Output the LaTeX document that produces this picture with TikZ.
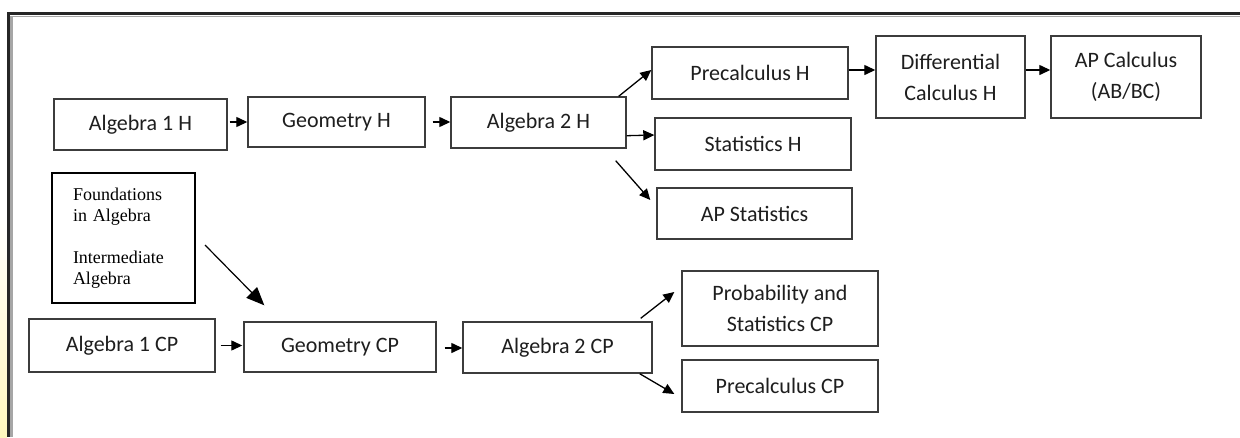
\documentclass[tikz,border=0pt]{standalone}
\usepackage{fontspec}
\setmainfont{Carlito}
\newfontfamily\timesfont{Liberation Serif}
\usetikzlibrary{arrows.meta,calc,positioning}
\definecolor{boxline}{HTML}{3C3C3C}
\definecolor{txt}{HTML}{1E1E1E}
\definecolor{glow}{RGB}{255,247,190}
\tikzset{
  course/.style={draw=boxline, line width=1.4pt, inner sep=0pt, align=center,
    text=txt, font=\fontsize{22}{31}\selectfont},
  flow/.style={line width=1.3pt, -{Triangle[length=11pt,width=10pt]}},
  bigflow/.style={line width=1.2pt, -{Triangle[length=18pt,width=15pt]}},
  notebox/.style={draw=black, line width=2pt, inner xsep=21pt, inner ysep=0pt,
    align=left, text width=101pt, font=\timesfont\fontsize{18}{21}\selectfont}
}
\begin{document}
\begin{tikzpicture}[x=1pt,y=-1pt]
\useasboundingbox (0,0) rectangle (1240,437);
\fill[white] (0,0) rectangle (1240,437);
% yellow glow on the left
\shade[top color=white, bottom color=glow] (0,215) rectangle (7,437);
% frame
\draw[gray!70, line width=3pt] (11.5,16) -- (11.5,437);
\draw[gray!70, line width=1.5pt] (11,16.5) -- (1240,16.5);
\draw[black!85, line width=3.2pt] (8.5,13.5) -- (1240,13.5);
\draw[black!85, line width=3.2pt] (8.5,12) -- (8.5,437);

% honors track
\node[course, minimum width=173pt, minimum height=51pt] (a1h) at (140.5,124.5) {Algebra 1 H};
\node[course, minimum width=177pt, minimum height=50pt] (geoh) at (336.5,122) {Geometry H};
\node[course, minimum width=175pt, minimum height=51pt] (a2h) at (538.5,122.5) {Algebra 2 H};
\node[course, minimum width=196pt, minimum height=52pt] (prech) at (750,73) {Precalculus H};
\node[course, minimum width=196pt, minimum height=52pt] (stath) at (753,144) {Statistics H};
\node[course, minimum width=195pt, minimum height=51pt] (apstat) at (754.5,213.5) {AP Statistics};
\node[course, minimum width=149pt, minimum height=82pt] (diff) at (950.5,77) {Differential\\Calculus H};
\node[course, minimum width=150pt, minimum height=82pt] (apcalc) at (1126,77) {AP Calculus\\(AB/BC)};

% note box
\node[notebox, minimum height=130pt] (found) at (123.5,238)
  {Foundations\\in Algebra\\[21pt]Intermediate\\Algebra};

% college prep track
\node[course, minimum width=186pt, minimum height=53pt] (a1cp) at (122,345.5) {Algebra 1 CP};
\node[course, minimum width=192pt, minimum height=50pt] (geocp) at (340,347) {Geometry CP};
\node[course, minimum width=189pt, minimum height=51pt] (a2cp) at (557.5,347.5) {Algebra 2 CP};
\node[course, minimum width=196pt, minimum height=75pt] (probcp) at (780,308.5) {Probability and\\Statistics CP};
\node[course, minimum width=196pt, minimum height=52pt] (precp) at (780,386) {Precalculus CP};

% connectors (honors)
\draw[flow] ($(a1h.east)+(2,-2.5)$) -- (geoh.west);
\draw[flow] ($(geoh.east)+(7,0)$) -- ($(a2h.west)+(0,-0.5)$);
\draw[flow] ($(a2h.north east)+(-8,0)$) -- ($(prech.west)+(0,-3)$);
\draw[flow] ($(a2h.south east)+(0,-13)$) -- ($(stath.west)+(0,-9)$);
\draw[flow] ($(a2h.south east)+(-11,12)$) -- ($(apstat.west)+(-6,-13.5)$);
\draw[flow] ($(prech.east)+(0,-3)$) -- ($(diff.west)+(0,-7)$);
\draw[flow] ($(diff.east)+(0,-7)$) -- ($(apcalc.west)+(0,-7)$);

% connector from note box
\draw[bigflow] ($(found.east)+(9,7)$) -- ($(geocp.north west)+(21,-16)$);

% connectors (college prep)
\draw[flow] ($(a1cp.east)+(5,0)$) -- ($(geocp.west)+(-1,-1.5)$);
\draw[flow] ($(geocp.east)+(8,1)$) -- ($(a2cp.west)+(0,0.5)$);
\draw[flow] ($(a2cp.north east)+(-12,-3)$) -- ($(probcp.west)+(-7,-16.5)$);
\draw[flow] ($(a2cp.south east)+(-13,0)$) -- ($(precp.west)+(-7,8)$);
\end{tikzpicture}
\end{document}
